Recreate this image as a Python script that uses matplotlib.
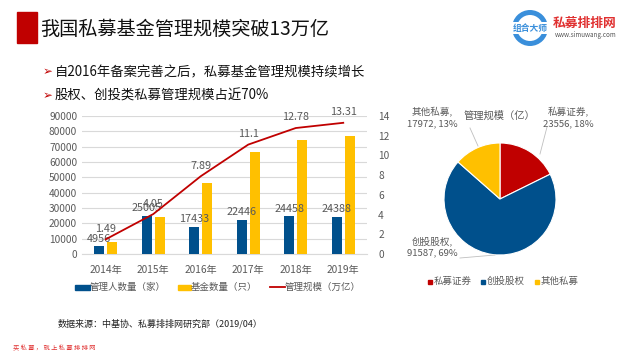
import matplotlib
matplotlib.use("Agg")
import matplotlib.pyplot as plt
from matplotlib.patches import Rectangle, Ellipse
import numpy as np

plt.rcParams['font.family'] = ['Noto Sans CJK SC', 'DejaVu Sans']

years = ["2014年", "2015年", "2016年", "2017年", "2018年", "2019年"]
managers = [4956, 25005, 17433, 22446, 24458, 24388]
funds = [7574, 24054, 46505, 66418, 74642, 76800]
scale = [1.49, 4.05, 7.89, 11.1, 12.78, 13.31]

pie_labels = ["私募证券", "创投股权", "其他私募"]
pie_values = [23556, 91587, 17972]
pie_pcts = ["18%", "69%", "13%"]

BLUE = "#00508C"
YELLOW = "#FFC000"
RED = "#C00000"
GRAY = "#595959"

W, H = 640, 360
fig = plt.figure(figsize=(6.4, 3.6), dpi=100)

def fx(px): return px / W
def fy(py): return 1 - py / H

# Title block
fig.patches.append(Rectangle((fx(17), fy(43)), fx(20), 31 / H, transform=fig.transFigure,
                             color=RED, zorder=2))
fig.text(fx(40), fy(29), "我国私募基金管理规模突破13万亿", fontsize=13.8, color="#111111",
         va="center", ha="left")

# Bullets
for yy, txt in [(72, "自2016年备案完善之后，私募基金管理规模持续增长"), (96, "股权、创投类私募管理规模占近70%")]:
    fig.text(fx(43), fy(yy), "➢", fontsize=8.5, color=RED, va="center", ha="left",
             family="DejaVu Sans")
    fig.text(fx(55), fy(yy), txt, fontsize=9.6, color="#111111", va="center", ha="left")

# Logo
def ell(cx, cy, r, **kw):
    return Ellipse((fx(cx), fy(cy)), 2 * r / W, 2 * r / H, transform=fig.transFigure, **kw)

fig.patches.append(ell(530, 28, 18, facecolor="#3A8FDB", edgecolor="none"))
fig.patches.append(ell(530, 28, 13, facecolor="white", edgecolor="none"))
fig.patches.append(Rectangle((fx(512), fy(34)), fx(36), 12 / H, transform=fig.transFigure,
                             facecolor="white", edgecolor="none"))
fig.text(fx(530), fy(28), "组合大师", fontsize=6.3, color="#3A8FDB", ha="center", va="center",
         weight="bold")
fig.text(fx(585), fy(23), "私募排排网", fontsize=9.2, color="#E03030", ha="center", va="center",
         weight="bold")
fig.text(fx(586), fy(35), "www.simuwang.com", fontsize=4.5, color="#555555", ha="center",
         va="center")

# Bar chart
ax = fig.add_axes([fx(82), fy(254), (367 - 82) / W, (254 - 116) / H])
x = np.arange(len(years))
bw = 0.21
off = 0.14
ax.bar(x - off, managers, bw, color=BLUE, zorder=3)
ax.bar(x + off, funds, bw, color=YELLOW, zorder=3)
ax.set_xlim(-0.5, len(years) - 0.5)
ax.set_ylim(0, 90000)
ax.set_yticks(np.arange(0, 90001, 10000))
ax.yaxis.grid(True, color="#D9D9D9", linewidth=0.8, zorder=0)
ax.set_xticks(x)
ax.set_xticklabels(years)
for s in ["top", "right", "left"]:
    ax.spines[s].set_visible(False)
ax.spines["bottom"].set_color("#D9D9D9")
ax.tick_params(axis="both", length=0, labelsize=7.3, colors=GRAY)
ax.tick_params(axis="x", pad=8)
for xi, v in zip(x, managers):
    ax.annotate(str(v), (xi - off, v), xytext=(0, 2), textcoords="offset points",
                ha="center", va="bottom", fontsize=7.8, color=GRAY, zorder=6)

ax2 = ax.twinx()
ax2.set_ylim(0, 14)
ax2.set_yticks(np.arange(0, 15, 2))
for s in ["top", "right", "left", "bottom"]:
    ax2.spines[s].set_visible(False)
ax2.tick_params(axis="y", length=0, labelsize=7.3, colors=GRAY, pad=8)
ax2.plot(x, scale, color=RED, linewidth=1.3, zorder=5)
for xi, v in zip(x, scale):
    ax2.annotate(f"{v}", (xi, v), xytext=(0, 4), textcoords="offset points",
                 ha="center", va="bottom", fontsize=7.8, color=GRAY)

# Bar legend
ly = fy(287)
fig.patches.append(Rectangle((fx(75), ly - 2.5 / H), fx(15), 5 / H, transform=fig.transFigure,
                             color=BLUE))
fig.text(fx(90), ly, "管理人数量（家）", fontsize=6.8, color=GRAY, va="center", ha="left")
fig.patches.append(Rectangle((fx(178), ly - 2.5 / H), fx(13), 5 / H, transform=fig.transFigure,
                             color=YELLOW))
fig.text(fx(191), ly, "基金数量（只）", fontsize=6.8, color=GRAY, va="center", ha="left")
fig.lines.append(plt.Line2D([fx(270), fx(285)], [ly, ly], transform=fig.transFigure,
                            color=RED, linewidth=1.3))
fig.text(fx(285), ly, "管理规模（万亿）", fontsize=6.8, color=GRAY, va="center", ha="left")

# Pie chart
R = 56
pax = fig.add_axes([fx(500 - R), fy(199 + R), 2 * R / W, 2 * R / H])
wedges, _ = pax.pie(pie_values, colors=[RED, BLUE, YELLOW], startangle=90, counterclock=False,
                    wedgeprops=dict(edgecolor="white", linewidth=0.8))
pax.set_xlim(-1, 1)
pax.set_ylim(-1, 1)
pax.set_aspect("equal")
pax.axis("off")

def px2d(px, py):
    return ((px - 500) / R, (199 - py) / R)

pax.text(*px2d(499, 116), "管理规模（亿）", fontsize=7.4, color=GRAY, ha="center", va="center",
         clip_on=False)
lbl_pos = [(568, 118), (432, 247), (432, 118)]
line_pts = [((547, 127), (540, 154)), ((460, 258), (495, 255)), ((470, 128), (478, 146))]
for (lx, ly_), name, v, p, (a, b) in zip(lbl_pos, pie_labels, pie_values, pie_pcts, line_pts):
    pax.text(*px2d(lx, ly_), f"{name},\n{v}, {p}", fontsize=6.9, color=GRAY, ha="center",
             va="center", linespacing=1.2, clip_on=False)
    p1 = px2d(*a)
    p2 = px2d(*b)
    pax.plot([p1[0], p2[0]], [p1[1], p2[1]], color="#BFBFBF", linewidth=0.6, clip_on=False)

# Pie legend
py_ = fy(281)
items = [(428, RED, "私募证券"), (481, BLUE, "创投股权"), (535, YELLOW, "其他私募")]
for lx, c, t in items:
    fig.patches.append(Rectangle((fx(lx), py_ - 2.5 / H), fx(4), 4 / H,
                                 transform=fig.transFigure, color=c))
    fig.text(fx(lx + 6), py_, t, fontsize=6.8, color=GRAY, va="center", ha="left")

# Source and footer
fig.text(fx(58), fy(324), "数据来源：中基协、私募排排网研究部（2019/04）", fontsize=6.5,
         color="#222222", va="center", ha="left")
fig.text(fx(13), fy(348), "买 私 募 ， 就 上 私 募 排 排 网", fontsize=4.5, color="#E03030",
         va="center", ha="left")

fig.savefig("out.png", dpi=100)
